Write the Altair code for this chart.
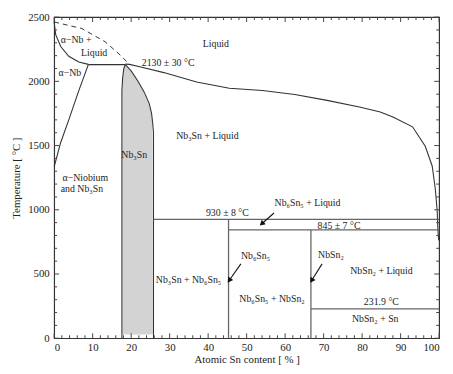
import altair as alt
import pandas as pd
import numpy as np

# ---------------- data ----------------
# liquidus, Nb-rich side (alpha-Nb + Liquid upper boundary)
liq_left_x = [0.0, 0.4, 1.7, 3.8, 6.4, 8.9]
liq_left_T = [2462, 2363, 2271, 2195, 2150, 2132]
# peritectic horizontal at 2130 C
peri_x = [8.9, 18.5]
peri_T = [2130, 2130]
# liquidus, Sn-rich side
liq_right_x = [18.5, 19.6, 22.5, 28.5, 37.0, 45.5, 54.1, 62.5, 70.9, 79.6, 84.7, 88.0,
               93.1, 96.4, 98.2, 99.0, 99.5, 99.7, 99.9]
liq_right_T = [2134, 2132, 2111, 2068, 1995, 1946, 1928, 1898, 1852, 1799, 1761, 1723,
               1646, 1494, 1341, 1166, 991, 838, 762]
# dashed metastable liquidus
dash_x = [0.0, 7.2, 13.2, 16.6, 19.6]
dash_T = [2462, 2411, 2309, 2220, 2132]
# alpha-Nb solvus
solvus_x = [8.9, 6.4, 3.8, 1.7, 0.0]
solvus_T = [2132, 1928, 1700, 1524, 1334]
# Nb3Sn phase boundaries
nb3sn_left_x = [17.6, 17.6, 17.8, 18.1, 18.5]
nb3sn_left_T = [0, 1928, 2030, 2100, 2130]
nb3sn_right_x = [18.5, 20.0, 21.7, 23.4, 24.7, 25.3, 25.6, 25.8, 25.8]
nb3sn_right_T = [2130, 2081, 2005, 1916, 1827, 1751, 1674, 1600, 0]
# Nb3Sn grey fill
fill_T = [30, 1674, 1751, 1827, 1916, 2005, 2081, 2127]
fill_left = [17.7, 17.7, 17.7, 17.7, 17.7, 17.8, 18.0, 18.3]
fill_right = [25.6, 25.5, 25.2, 24.6, 23.3, 21.6, 19.9, 18.4]
# invariant / compound lines (x1, T1, x2, T2)
inv_x1 = [25.8, 45.3, 45.3, 66.7, 66.7]
inv_T1 = [925, 843, 0, 0, 229]
inv_x2 = [100, 100, 45.3, 66.7, 100]
inv_T2 = [925, 843, 925, 843, 229]

# labels
lab_text = ["Liquid", "α−Nb +", "Liquid", "α−Nb", "2130 ± 30 °C", "Nb₃Sn + Liquid",
            "Nb₃Sn", "α−Niobium", "and Nb₃Sn", "930 ± 8 °C", "845 ± 7 °C",
            "Nb₆Sn₅ + Liquid", "Nb₆Sn₅", "NbSn₂", "NbSn₂ + Liquid", "Nb₃Sn + Nb₆Sn₅",
            "Nb₆Sn₅ + NbSn₂", "231.9 °C", "NbSn₂ + Sn"]
lab_x = [42.0, 5.7, 10.4, 4.1, 29.6, 39.8, 20.8, 8.1, 7.2, 45.0, 74.0, 65.8, 52.3, 71.9,
         85.0, 34.9, 56.6, 85.0, 83.4]
lab_T = [2287, 2320, 2220, 2068, 2144, 1572, 1425, 1250, 1159, 976, 877, 1052, 640, 648,
         526, 450, 305, 282, 152]

# arrows (tail -> head)
arr_x1 = [57.1, 48.5, 69.6]
arr_T1 = [975, 579, 579]
arr_x2 = [54.1, 45.6, 67.0]
arr_T2 = [895, 455, 455]

# axis ticks
x_major = list(range(0, 101, 10))
x_minor = [v for v in range(0, 101, 2) if v % 10]
y_major = list(range(0, 2501, 500))
y_minor = [v for v in range(0, 2501, 100) if v % 500]

# ---------------- build ----------------
W, H = 392, 327
XD, YD = [0, 100], [0, 2500]
FONT = "Liberation Serif, Times New Roman, DejaVu Serif, serif"
LINE = "#333333"
TICK = "#444444"
TXT = "#222222"

xs = alt.Scale(domain=XD, nice=False, zero=False)
ys = alt.Scale(domain=YD, nice=False, zero=False)

def seg(name, xv, tv):
    return pd.DataFrame({"x": xv, "T": tv, "seg": name, "o": range(len(xv))})

curves = pd.concat([
    seg("liqL", liq_left_x, liq_left_T),
    seg("peri", peri_x, peri_T),
    seg("liqR", liq_right_x, liq_right_T),
    seg("solv", solvus_x, solvus_T),
    seg("n3l", nb3sn_left_x, nb3sn_left_T),
    seg("n3r", nb3sn_right_x, nb3sn_right_T),
])

axis_style = dict(ticks=False, domain=False, grid=False, format="d", labelOverlap=False,
                  labelFont=FONT, titleFont=FONT, labelFontSize=11, titleFontSize=11,
                  titleFontWeight="normal", labelColor=TXT, titleColor=TXT)
XAX = alt.Axis(values=x_major, title="Atomic Sn content [ % ]", labelPadding=4,
               titlePadding=1, **axis_style)
YAX = alt.Axis(values=y_major, title="Temperature [ °C ]", labelPadding=5,
               titlePadding=6, **axis_style)

fill = alt.Chart(pd.DataFrame({"T": fill_T, "l": fill_left, "r": fill_right})).mark_area(
    orient="horizontal", color="#d3d3d3").encode(
    y=alt.Y("T:Q", scale=ys, axis=YAX), x=alt.X("l:Q", scale=xs, axis=XAX), x2="r:Q")

lines = alt.Chart(curves).mark_line(color=LINE, strokeWidth=1.1).encode(
    x=alt.X("x:Q", scale=xs, axis=XAX), y=alt.Y("T:Q", scale=ys, axis=YAX),
    detail="seg:N", order="o:Q")

dashed = alt.Chart(pd.DataFrame({"x": dash_x, "T": dash_T})).mark_line(
    color=LINE, strokeWidth=1.0, strokeDash=[5, 4]).encode(
    x=alt.X("x:Q", scale=xs, axis=XAX), y=alt.Y("T:Q", scale=ys, axis=YAX))

inv = alt.Chart(pd.DataFrame({"x1": inv_x1, "T1": inv_T1, "x2": inv_x2, "T2": inv_T2})).mark_rule(
    color="#666666", strokeWidth=1.3).encode(
    x=alt.X("x1:Q", scale=xs, axis=XAX), y=alt.Y("T1:Q", scale=ys, axis=YAX), x2="x2:Q", y2="T2:Q")

# arrows
adf = pd.DataFrame({"x1": arr_x1, "T1": arr_T1, "x2": arr_x2, "T2": arr_T2})
kx, ky = W / (XD[1] - XD[0]), H / (YD[1] - YD[0])
adf["ang"] = [(np.degrees(np.arctan2((b - a) * kx, (d - c) * ky)) + 360) % 360
              for a, b, c, d in zip(adf.x1, adf.x2, adf.T1, adf.T2)]
arr_lines = alt.Chart(adf).mark_rule(color="#111111", strokeWidth=1.1).encode(
    x=alt.X("x1:Q", scale=xs, axis=XAX), y=alt.Y("T1:Q", scale=ys, axis=YAX), x2="x2:Q", y2="T2:Q")
arr_heads = alt.Chart(adf).mark_point(shape="triangle", filled=True, color="#111111",
                                      size=38, opacity=1).encode(
    x=alt.X("x2:Q", scale=xs, axis=XAX), y=alt.Y("T2:Q", scale=ys, axis=YAX),
    angle=alt.Angle("ang:Q", scale=None))

texts = alt.Chart(pd.DataFrame({"t": lab_text, "x": lab_x, "T": lab_T})).mark_text(
    font=FONT, fontSize=10, color=TXT).encode(
    x=alt.X("x:Q", scale=xs, axis=XAX), y=alt.Y("T:Q", scale=ys, axis=YAX), text="t:N")

# inward ticks
def hticks(vals, length, top):
    y0 = 0 if top else H
    y1 = length if top else H - length
    return alt.Chart(pd.DataFrame({"v": vals})).mark_rule(color=TICK, strokeWidth=1).encode(
        x=alt.X("v:Q", scale=xs, axis=XAX), y=alt.value(y0), y2=alt.value(y1))

def vticks(vals, length, right):
    x0 = W if right else 0
    x1 = W - length if right else length
    return alt.Chart(pd.DataFrame({"v": vals})).mark_rule(color=TICK, strokeWidth=1).encode(
        y=alt.Y("v:Q", scale=ys, axis=YAX), x=alt.value(x0), x2=alt.value(x1))

ticks = [hticks(x_major, 5, False), hticks(x_minor, 3, False), hticks(x_major, 5, True),
         hticks(x_minor, 3, True), vticks(y_major, 5, False), vticks(y_minor, 3, False),
         vticks(y_major, 5, True), vticks(y_minor, 3, True)]

chart = alt.layer(fill, lines, dashed, inv, arr_lines, arr_heads, texts, *ticks).properties(
    width=W, height=H,
    autosize=alt.AutoSizeParams(type="none"),
    padding={"left": 47, "top": 6, "right": 6, "bottom": 25},
).configure_view(stroke="#333333", strokeWidth=1.2)

chart.save("out.html", embed_options={"renderer": "svg", "actions": False})
